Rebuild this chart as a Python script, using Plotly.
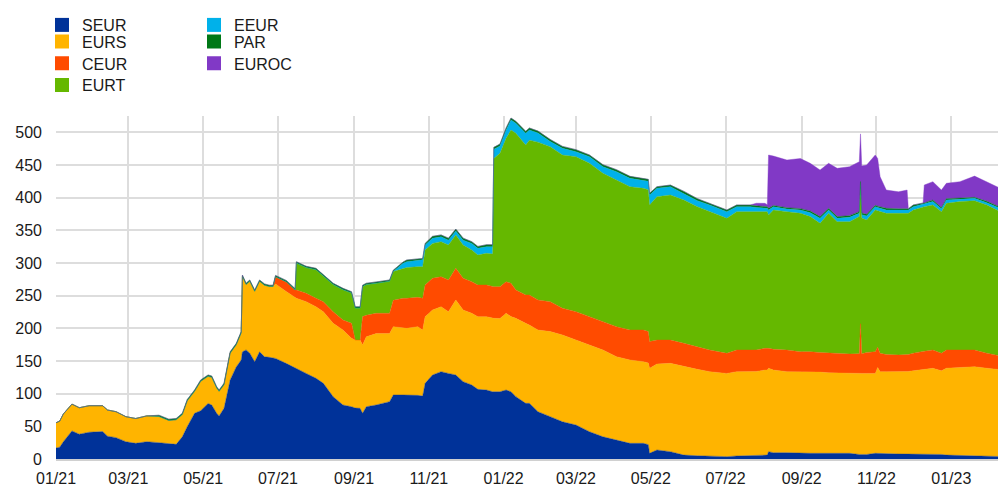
import plotly.graph_objects as go

dates = [
    "2021-01-01", "2021-01-04", "2021-01-07", "2021-01-14", "2021-01-20", "2021-01-28",
    "2021-02-08", "2021-02-12", "2021-02-19", "2021-02-27", "2021-03-07", "2021-03-16",
    "2021-03-26", "2021-04-03", "2021-04-09", "2021-04-14", "2021-04-18", "2021-04-24",
    "2021-04-29", "2021-05-05", "2021-05-08", "2021-05-12", "2021-05-14", "2021-05-18",
    "2021-05-23", "2021-05-28", "2021-06-01", "2021-06-02", "2021-06-05", "2021-06-08",
    "2021-06-12", "2021-06-16", "2021-06-20", "2021-06-24", "2021-06-27", "2021-06-29",
    "2021-07-08", "2021-07-15", "2021-07-16", "2021-07-24", "2021-08-01", "2021-08-07",
    "2021-08-15", "2021-08-23", "2021-08-30", "2021-09-02", "2021-09-06", "2021-09-08",
    "2021-09-11", "2021-09-19", "2021-09-30", "2021-10-03", "2021-10-11", "2021-10-14",
    "2021-10-23", "2021-10-27", "2021-10-29", "2021-11-04", "2021-11-11", "2021-11-17",
    "2021-11-23", "2021-11-29", "2021-12-06", "2021-12-11", "2021-12-18", "2021-12-23",
    "2021-12-24", "2021-12-29", "2022-01-03", "2022-01-07", "2022-01-11", "2022-01-19",
    "2022-01-22", "2022-01-29", "2022-02-08", "2022-02-18", "2022-03-01", "2022-03-12",
    "2022-03-23", "2022-04-03", "2022-04-14", "2022-04-25", "2022-04-29", "2022-04-30",
    "2022-05-06", "2022-05-17", "2022-05-28", "2022-06-08", "2022-06-18", "2022-07-02",
    "2022-07-10", "2022-07-21", "2022-07-26", "2022-08-02", "2022-08-04", "2022-08-05",
    "2022-08-09", "2022-08-20", "2022-08-31", "2022-09-08", "2022-09-16", "2022-09-23",
    "2022-09-30", "2022-10-10", "2022-10-18", "2022-10-19", "2022-10-20", "2022-10-24",
    "2022-10-31", "2022-11-02", "2022-11-04", "2022-11-09", "2022-11-19", "2022-11-26",
    "2022-11-27", "2022-12-01", "2022-12-09", "2022-12-10", "2022-12-17", "2022-12-24",
    "2022-12-28", "2023-01-08", "2023-01-20", "2023-01-30", "2023-02-13",
]

SEUR = [
    17, 18, 26.5, 43, 38, 41,
    42, 35, 32.7, 26.5, 24, 26.5,
    25, 24, 22.4, 34, 49.5, 70,
    74, 85, 82.7, 70, 66, 77.5,
    121, 141, 151.5, 164, 167, 162,
    149, 164, 156.6, 155.6, 154, 154,
    146, 139, 139, 131, 123.5, 115.8,
    95.4, 82.7, 80, 78, 77.6, 70,
    80, 82.7, 87.8, 98, 98, 98,
    97.4, 96.4, 115.8, 128.6, 133.7, 131,
    128.6, 118.4, 113.3, 106.6, 105.6, 103,
    103, 103, 105.6, 103, 95.4, 85.2,
    85.2, 72.4, 64.8, 57, 52, 41.8,
    34, 29, 24, 24, 22, 8.7,
    13.8, 11.2, 6, 5, 4.6, 3.6,
    4.6, 5, 5, 6, 6, 11.2,
    9.7, 9.7, 8.7, 8.7, 8.7, 8.7,
    8, 8.7, 7, 7, 7, 7,
    8.7, 8.7, 8.7, 8, 7.7, 7.5,
    7.5, 7.5, 7.3, 7.3, 7, 7,
    6, 5.5, 4.6, 4, 3.6,
]

EURS = [
    38.5, 40, 42.5, 41, 40.5, 40.6,
    39.6, 40, 39.7, 38.3, 38, 39.5,
    40, 35, 37.6, 34, 39.5, 33.6,
    45, 41.6, 42.3, 38.7, 37.6, 36.3,
    41, 34, 41.5, 115.6, 100, 110,
    107.7, 108, 109.4, 108.4, 110, 114,
    110, 107, 107, 109.8, 109.5, 109.7,
    112.3, 114.7, 104.7, 104, 104.4, 104.5,
    107, 109.3, 104.2, 104.6, 102, 102,
    105.2, 101, 102.1, 99.4, 99.3, 94.5,
    114.8, 109.6, 109.7, 111.3, 112.3, 112.3,
    112.3, 112, 117.4, 115, 119.9, 122.5,
    119.8, 125, 130.2, 132.8, 130, 132.7,
    132.8, 127.6, 127.5, 125, 125, 130.1,
    131.6, 135.2, 135.3, 132.2, 129.1, 127.4,
    129.1, 128.7, 129, 130.2, 130.2, 127.6,
    126.5, 124, 125, 125, 124.3, 123.3,
    123.5, 122.3, 124, 124, 124, 124,
    122.3, 131.3, 125, 125.7, 126, 126.5,
    126.5, 127.5, 129.7, 129.7, 131.8, 128,
    133, 134.5, 136.7, 135, 132.6,
]

CEUR = [
    0, 0, 0, 0, 0, 0,
    0, 0, 0, 0, 0, 0,
    0, 0, 0, 0, 0, 0,
    0, 0, 0, 0, 0, 0,
    0, 0, 0, 0, 0, 0,
    0, 0, 0, 0, 0, 11,
    15, 12.7, 12.7, 12.8, 13, 15.3,
    17.8, 15.4, 23, 0, 0, 43.5,
    33, 31, 31, 40.4, 46, 46,
    44.8, 48.6, 48.4, 48.5, 46, 48.5,
    48.4, 48.5, 48.4, 48.4, 48.4, 48.5,
    48.5, 48.8, 48.4, 51, 43.4, 43.3,
    46, 46, 45.8, 40.8, 43.5, 43.4,
    43.4, 46, 45.9, 48.4, 48, 41.2,
    36.6, 35.6, 35.7, 34.8, 33.1, 30.7,
    33.1, 33.1, 33, 33.2, 33.2, 30.6,
    31.7, 33.1, 30.6, 30.6, 30, 30,
    29.5, 29.7, 30, 76, 30, 32,
    33.3, 31, 28, 26.3, 25.5, 26,
    26, 27, 28, 28, 28, 27,
    27.8, 26.8, 25.5, 23, 20.4,
]

EURT = [
    0, 0, 0, 0, 0, 0,
    0, 0, 0, 0, 0, 0,
    0, 0, 0, 0, 0, 0,
    0, 0, 0, 0, 0, 0,
    0, 0, 0, 0, 0, 0,
    0, 0, 0, 0, 0, 0,
    0, 0, 41.3, 39.4, 43.8, 38.8,
    41.5, 46.4, 46.3, 49, 49, 46,
    47, 46, 49, 44, 45.8, 47,
    47, 48.4, 53.7, 53.5, 53.6, 53.6,
    51.1, 51.1, 48.6, 45.9, 48.5, 50,
    196.2, 204.2, 219.4, 234.6, 239.8, 229.6,
    237, 241.6, 237.2, 234.7, 237.2, 234.7,
    227, 224.4, 219.4, 216.9, 217, 208.8,
    219.5, 222, 219.4, 214.2, 211.8, 206.7,
    211.8, 211.8, 211, 209.2, 209.2, 204.1,
    213.1, 211.8, 211.7, 206.7, 197.7, 214,
    202.3, 202.6, 210, 210, 208, 202.8,
    216.7, 209, 216.9, 216, 216.8, 216,
    216, 219, 221.2, 221.2, 222, 216.6,
    224.5, 227.2, 228.6, 226.8, 219.4,
]

EEUR = [
    0, 0, 0, 0, 0, 0,
    0, 0, 0, 0, 0, 0,
    0, 0, 0, 0, 0, 0,
    0, 0, 0, 0, 0, 0,
    0, 0, 0, 0, 0, 0,
    0, 0, 0, 0, 0, 0,
    0, 0, 0, 0, 0, 0,
    0, 0, 0, 0, 0, 0,
    0, 0, 0, 0, 7.7, 9,
    9.2, 10.6, 7.6, 7.8, 7.4, 7.4,
    6, 7.4, 10, 10.2, 10.2, 11.2,
    14, 11, 12.8, 15.3, 15.3, 17.9,
    15.6, 14, 8, 10.2, 7.7, 10.1,
    10.2, 12.8, 12.8, 12.7, 13, 15.2,
    12.8, 12.8, 10.2, 9.2, 10.2, 10.2,
    7.6, 7.6, 7, 5.1, 5.1, 7.5,
    5, 4, 5, 6, 7.7, 5,
    5.1, 6.7, 5, 5, 5, 6.2,
    5.2, 5, 5.1, 5, 5, 5,
    5, 5, 3.8, 3.8, 5.2, 4.4,
    5.1, 3.4, 3.6, 3.5, 5,
]

PAR = [
    0, 0, 0, 0, 0, 0,
    0, 0, 0, 0, 0, 0,
    2, 2, 2, 2, 2, 2,
    2, 2, 2, 2, 2, 2,
    2, 2, 2, 2, 2, 2,
    2, 2, 2, 2, 2, 2,
    2, 2, 2, 2, 2, 2,
    2, 2, 2, 2, 2, 2,
    2, 2, 2, 2, 2, 2.6,
    2, 2, 2.4, 3, 3, 3,
    3, 3, 2.6, 3, 3, 3,
    3, 3, 3, 3, 3, 3,
    3, 3, 3, 3, 3, 2.6,
    3, 3, 3, 3, 3, 2.6,
    2.5, 2.5, 3, 3, 2.5, 2.5,
    2.6, 2.6, 2.5, 2.5, 2.5, 2.7,
    2, 2.1, 2.2, 2.6, 2.6, 2.7,
    2.6, 2.5, 2.6, 2.6, 2.6, 2.5,
    2.1, 2, 2.5, 2.7, 2, 2,
    2, 2.8, 2, 2, 2.4, 2,
    2.1, 2.1, 1.5, 2.1, 2,
]

EUROC = [
    0, 0, 0, 0, 0, 0,
    0, 0, 0, 0, 0, 0,
    0, 0, 0, 0, 0, 0,
    0, 0, 0, 0, 0, 0,
    0, 0, 0, 0, 0, 0,
    0, 0, 0, 0, 0, 0,
    0, 0, 0, 0, 0, 0,
    0, 0, 0, 0, 0, 0,
    0, 0, 0, 0, 0, 0,
    0, 0, 0, 0, 0, 0,
    0, 0, 0, 0, 0, 0,
    0, 0, 0, 0, 0, 0,
    0, 0, 0, 0, 0, 0,
    0, 0, 0, 0, 0, 0,
    0, 0, 0, 0, 0, 0,
    0, 0, 4, 5.1, 3, 81.6,
    75.7, 72.9, 76.8, 73, 71.3, 68.9,
    73.9, 74.9, 76.4, 73, 72, 75.5,
    77, 73, 45.8, 28, 26, 28.7,
    0, 0, 0, 27.4, 28.1, 26.7,
    23.5, 25, 32.5, 30.1, 28.7,
]

series_names = ["SEUR", "EURS", "CEUR", "EURT", "EEUR", "PAR", "EUROC"]
series_values = [SEUR, EURS, CEUR, EURT, EEUR, PAR, EUROC]
colors = ["#003299", "#FFB400", "#FF4B00", "#65B800", "#00B1EA", "#007816", "#8139C6"]

FONT = "Liberation Sans, Arial, sans-serif"
TXT = "#1a1a1a"
W, H = 1006, 486

fig = go.Figure()
for name, vals, col in zip(series_names, series_values, colors):
    fig.add_trace(go.Scatter(
        x=dates, y=vals, name=name, mode="lines", stackgroup="one",
        line=dict(width=0.4, color=col), fillcolor=col, showlegend=False,
    ))

# legend entries: two columns (left: 4 items, right: 3 items), one legend per entry
legend_layout = {}
for i, (name, col) in enumerate(zip(series_names, colors)):
    key = "legend" if i == 0 else f"legend{i + 1}"
    column, row = (0, i) if i < 4 else (1, i - 4)
    left_px = 34 if column == 0 else 186
    top_px = -5 + row * 21.7
    fig.add_trace(go.Scatter(
        x=[None], y=[None], name=name, mode="markers",
        marker=dict(symbol="square", size=14, color=col),
        legend=key, showlegend=True,
    ))
    legend_layout[key] = dict(
        x=left_px / W, y=1 - top_px / H,
        xref="container", yref="container", xanchor="left", yanchor="top",
        font=dict(size=16, family=FONT, color=TXT),
        bgcolor="rgba(0,0,0,0)", orientation="v",
    )

fig.update_layout(
    width=W, height=H,
    margin=dict(l=48, r=10, t=108, b=35, autoexpand=False),
    paper_bgcolor="white", plot_bgcolor="white",
    font=dict(family=FONT, size=16, color=TXT),
    xaxis=dict(
        type="date", range=["2021-01-01", "2023-02-13"],
        tick0="2021-01-01", dtick="M2", tickformat="%m/%y",
        showgrid=True, gridcolor="#dddddd", gridwidth=1.5,
        showline=True, linecolor="#d0d0d0", linewidth=1.5,
        ticks="", ticklabelstandoff=4,
        tickfont=dict(size=16, family=FONT, color=TXT),
        zeroline=False,
    ),
    yaxis=dict(
        range=[0, 525], tick0=0, dtick=50,
        showgrid=True, gridcolor="#dddddd", gridwidth=1.5,
        zeroline=False, showline=False, ticks="",
        ticklabelstandoff=13,
        tickfont=dict(size=16, family=FONT, color=TXT),
    ),
    hovermode=False,
    **legend_layout,
)

fig.write_html("out.html")
